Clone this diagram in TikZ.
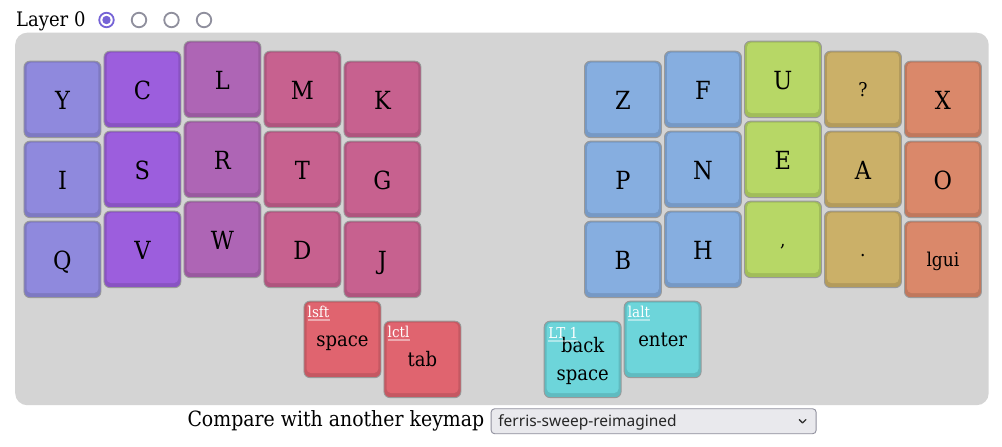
\documentclass[tikz,border=0pt]{standalone}
\usepackage{fontspec}
\setmainfont{DejaVu Serif}[FakeStretch=0.9]
\newfontfamily\uisans{Noto Sans}
\definecolor{panelgray}{HTML}{D4D4D4}
\definecolor{keyedge}{HTML}{999999}
\definecolor{cLav}{HTML}{8F89DD}
\definecolor{cPur}{HTML}{9C5EDD}
\definecolor{cOrc}{HTML}{AE65B5}
\definecolor{cPnk}{HTML}{C7618F}
\definecolor{cBlu}{HTML}{86AEE0}
\definecolor{cGrn}{HTML}{B7D766}
\definecolor{cTan}{HTML}{CBB068}
\definecolor{cOrg}{HTML}{DA886A}
\definecolor{cRed}{HTML}{E0646F}
\definecolor{cCyn}{HTML}{6DD5DA}
\definecolor{radiogray}{HTML}{8F8F9D}
\definecolor{radiopur}{HTML}{7563D6}
\definecolor{selfill}{HTML}{E9E9ED}
\tikzset{
  keybase/.style={draw=keyedge, line width=0.9pt, rounded corners=6pt,
    minimum width=77pt, minimum height=76.5pt, anchor=north west, inner sep=0pt},
  klab/.style={font=\fontsize{25}{30}\selectfont, text=black, inner sep=0pt, anchor=base},
  kpun/.style={font=\fontsize{19}{23}\selectfont, text=black, inner sep=0pt, anchor=base},
  kwrd/.style={font=\fontsize{20}{24}\selectfont, text=black, inner sep=0pt, anchor=base},
  khold/.style={font=\fontsize{15}{17}\selectfont, text=white, inner sep=0pt, anchor=base west},
  holdline/.style={white, opacity=0.45, line width=1.6pt},
  uitext/.style={font=\fontsize{20}{24}\selectfont, text=black, inner sep=0pt, anchor=base west},
  radiooff/.style={circle, draw=radiogray, line width=1.8pt, fill=white, minimum size=14.5pt, inner sep=0pt},
  radioon/.style={circle, draw=radiopur, line width=1.8pt, fill=white, minimum size=14.5pt, inner sep=0pt},
}
\newcommand\kcap[4]{%
  \node[keybase, fill=#4!88!black] (#1) at (#2,#3) {};
  \fill[#4, rounded corners=4.5pt] ([xshift=3pt,yshift=-2pt]#1.north west) rectangle ([xshift=-3pt,yshift=5pt]#1.south east);
}
\begin{document}
\begin{tikzpicture}[x=1pt,y=-1pt]
\useasboundingbox (0,0) rectangle (1002,447);
\fill[white] (0,0) rectangle (1002,447);

% header
\node[uitext] (layer) at (16,26) {Layer 0};
\node[radioon] (r0) at (106.5,20) {};
\fill[radiopur] (r0.center) circle (4.2pt);
\node[radiooff] (r1) at (139,20) {};
\node[radiooff] (r2) at (171.5,20) {};
\node[radiooff] (r3) at (204,20) {};

% panel
\node[fill=panelgray, rounded corners=12pt, minimum width=973.5pt, minimum height=372.5pt,
  anchor=north west, inner sep=0pt] (board) at (15,32.5) {};

% left half
\kcap{kY}{23.5}{60.7}{cLav} \kcap{kI}{23.5}{140.7}{cLav} \kcap{kQ}{23.5}{220.7}{cLav}
\kcap{kC}{103.5}{50.7}{cPur} \kcap{kS}{103.5}{130.7}{cPur} \kcap{kV}{103.5}{210.7}{cPur}
\kcap{kL}{183.5}{40.7}{cOrc} \kcap{kR}{183.5}{120.7}{cOrc} \kcap{kW}{183.5}{200.7}{cOrc}
\kcap{kM}{263.5}{50.7}{cPnk} \kcap{kT}{263.5}{130.7}{cPnk} \kcap{kD}{263.5}{210.7}{cPnk}
\kcap{kK}{343.5}{60.7}{cPnk} \kcap{kG}{343.5}{140.7}{cPnk} \kcap{kJ}{343.5}{220.7}{cPnk}
% right half
\kcap{kZ}{584}{60.7}{cBlu} \kcap{kP}{584}{140.7}{cBlu} \kcap{kB}{584}{220.7}{cBlu}
\kcap{kF}{664}{50.7}{cBlu} \kcap{kN}{664}{130.7}{cBlu} \kcap{kH}{664}{210.7}{cBlu}
\kcap{kU}{744}{40.7}{cGrn} \kcap{kE}{744}{120.7}{cGrn} \kcap{kCm}{744}{200.7}{cGrn}
\kcap{kQm}{824}{50.7}{cTan} \kcap{kA}{824}{130.7}{cTan} \kcap{kDt}{824}{210.7}{cTan}
\kcap{kX}{904}{60.7}{cOrg} \kcap{kO}{904}{140.7}{cOrg} \kcap{kGui}{904}{220.7}{cOrg}
% thumbs
\kcap{kSpc}{303.5}{300.7}{cRed} \kcap{kTab}{383.5}{320.7}{cRed}
\kcap{kBsp}{543.7}{320.7}{cCyn} \kcap{kEnt}{623.7}{300.7}{cCyn}

% letter labels
\foreach \k/\t in {kY/Y,kI/I,kQ/Q,kC/C,kS/S,kV/V,kL/L,kR/R,kW/W,kM/M,kT/T,kD/D,kK/K,kG/G,kJ/J,
  kZ/Z,kP/P,kB/B,kF/F,kN/N,kH/H,kU/U,kE/E,kA/A,kX/X,kO/O}
  \node[klab] (\k-t) at ([yshift=-48.5pt]\k.north) {\t};
\node[kpun] (kCm-t) at ([yshift=-46pt]kCm.north) {,};
\node[kpun] (kQm-t) at ([yshift=-46pt]kQm.north) {?};
\node[kpun] (kDt-t) at ([yshift=-46pt]kDt.north) {.};
\node[kpun] (kGui-t) at ([yshift=-46pt]kGui.north) {lgui};

% thumb labels
\node[kwrd] (kSpc-t) at ([yshift=-46pt]kSpc.north) {space};
\node[kwrd] (kTab-t) at ([yshift=-46pt]kTab.north) {tab};
\node[kwrd] (kEnt-t) at ([yshift=-46pt]kEnt.north) {enter};
\node[kwrd] (kBsp-t) at ([yshift=-32pt]kBsp.north) {back};
\node[kwrd] (kBsp-u) at ([yshift=-60pt]kBsp.north) {space};

% hold labels
\node[khold] (kSpc-h) at ([xshift=4pt,yshift=-17pt]kSpc.north west) {lsft};
\node[khold] (kTab-h) at ([xshift=4pt,yshift=-17pt]kTab.north west) {lctl};
\node[khold] (kBsp-h) at ([xshift=4.5pt,yshift=-17.5pt]kBsp.north west) {LT 1};
\node[khold] (kEnt-h) at ([xshift=4pt,yshift=-17pt]kEnt.north west) {lalt};
\foreach \h in {kSpc-h,kTab-h,kBsp-h,kEnt-h}
  \draw[holdline] ([yshift=-2.5pt]\h.base west) -- ([yshift=-2.5pt]\h.base east);

% footer
\node[uitext, font=\fontsize{21}{25}\selectfont] (cmp) at (187.3,426.7) {Compare with another keymap};
\node[draw=radiogray, line width=0.9pt, fill=selfill, rounded corners=3.5pt, minimum width=325pt,
  minimum height=25pt, anchor=north west, inner sep=0pt] (sel) at (490.7,408.3) {};
\node[font=\uisans\fontsize{15.5}{18}\selectfont, text=black!85, inner sep=0pt, anchor=base west]
  (selt) at ([xshift=7.5pt,yshift=-18.3pt]sel.north west) {ferris-sweep-reimagined};
\coordinate (chev) at ([xshift=-14pt]sel.east);
\draw[line width=1.3pt, black!80, line cap=round, line join=round]
  ([xshift=-3.3pt,yshift=1.6pt]chev) -- ([yshift=-1.7pt]chev) -- ([xshift=3.3pt,yshift=1.6pt]chev);
\end{tikzpicture}
\end{document}
